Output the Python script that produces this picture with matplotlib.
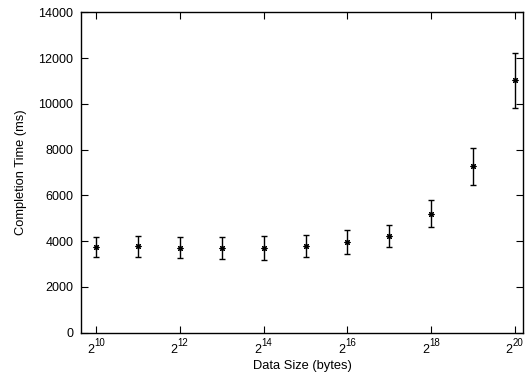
import numpy as np
import matplotlib.pyplot as plt

plt.rcParams['font.family'] = ['Liberation Sans', 'DejaVu Sans']

exponents = [10, 11, 12, 13, 14, 15, 16, 17, 18, 19, 20]
times = [3750, 3780, 3710, 3700, 3710, 3800, 3960, 4220, 5200, 7270, 11040]
errors = [420, 460, 460, 470, 510, 480, 540, 480, 600, 820, 1200]

tick_exps = [10, 12, 14, 16, 18, 20]
sizes = [2.0 ** e for e in exponents]

fig = plt.figure(figsize=(5.28, 3.75), dpi=100)
ax = fig.add_axes([0.1534, 0.1128, 0.8371, 0.8539])

ax.errorbar(sizes, times, yerr=errors, fmt='none', ecolor='black',
            elinewidth=1.0, capsize=2.3, capthick=1.0)
ax.plot(sizes, times, linestyle='none', marker=(8, 2, 0), markersize=4.2,
        color='black', markeredgewidth=0.8)

ax.set_xscale('log', base=2)
ax.set_xlim(2 ** 9.64, 2 ** 20.19)
ax.set_ylim(0, 14000)
ax.set_xticks([2.0 ** e for e in tick_exps])
ax.set_xticklabels([])
ax.minorticks_off()
ax.set_yticks(np.arange(0, 14001, 2000))

ax.tick_params(direction='in', length=5, width=0.8, top=True, right=True,
               labelsize=9)
ax.tick_params(axis='y', pad=5.5)
for s in ax.spines.values():
    s.set_linewidth(1.0)

# gnuplot-style 2^n labels: full size base, large exponent
for e in tick_exps:
    ax.annotate('2', xy=(2.0 ** e, 0), xycoords=('data', 'axes fraction'),
                xytext=(-1.6, -14.4), textcoords='offset points',
                ha='right', va='baseline', fontsize=9)
    ax.annotate(str(e), xy=(2.0 ** e, 0), xycoords=('data', 'axes fraction'),
                xytext=(-1.6, -9.4), textcoords='offset points',
                ha='left', va='baseline', fontsize=7)

ax.set_xlabel('Data Size (bytes)', fontsize=9.3)
ax.xaxis.set_label_coords(0.5, -0.086)
ax.set_ylabel('Completion Time (ms)', fontsize=9.3, labelpad=8)

fig.savefig('out.png', dpi=100)
